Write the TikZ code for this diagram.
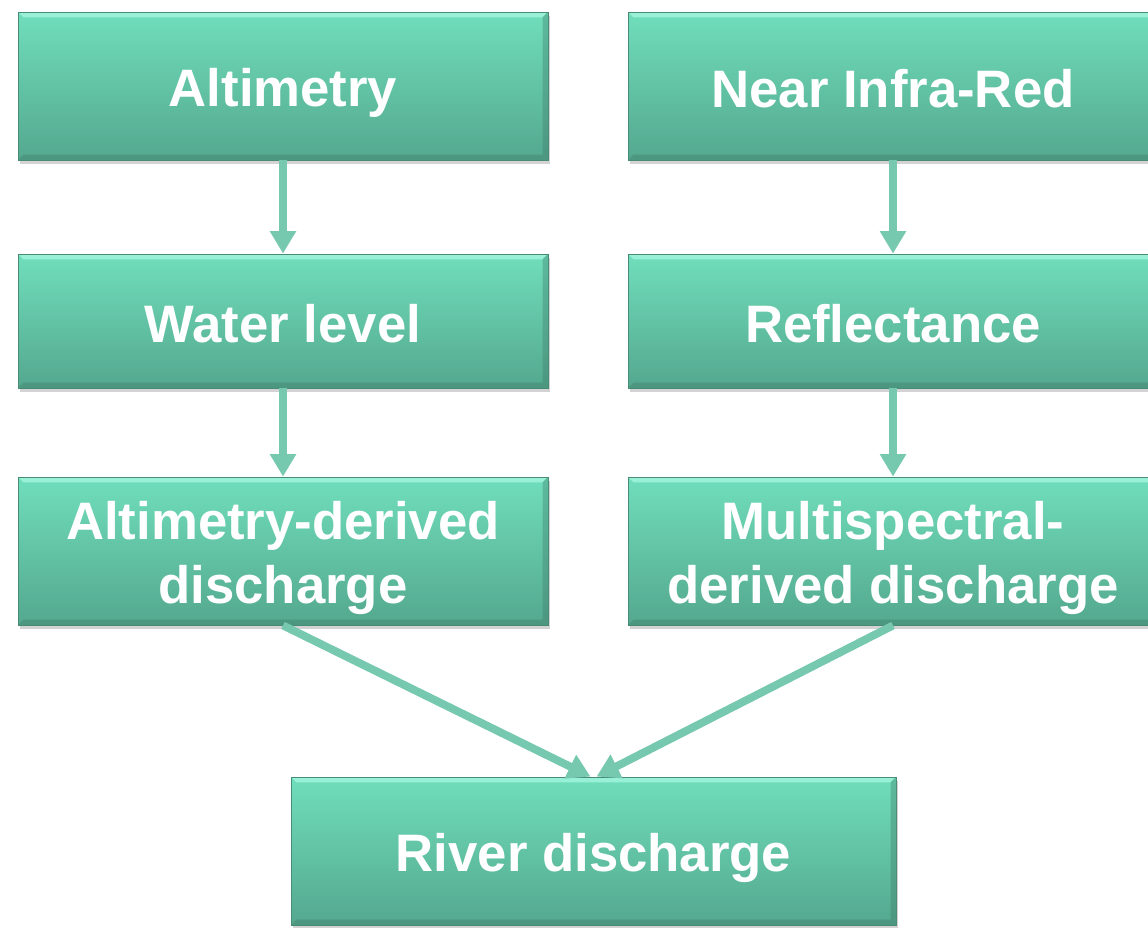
\documentclass[tikz,border=0pt]{standalone}
\usepackage{fontspec}
\setmainfont{Liberation Sans}
\usetikzlibrary{arrows.meta,shadows}

\definecolor{boxtop}{RGB}{112,222,187}
\definecolor{boxbot}{RGB}{84,168,142}
\definecolor{boxedge}{RGB}{72,140,118}
\definecolor{boxhigh}{RGB}{170,250,226}
\definecolor{boxlow}{RGB}{60,120,100}
\definecolor{flowcol}{RGB}{118,200,174}

\newcommand{\stagestrut}{\rule[-5.5pt]{0pt}{35pt}}

\tikzset{
  stage/.style={rectangle, minimum width=10.6cm, minimum height=2.96cm, inner sep=0pt,
    top color=boxtop, bottom color=boxbot, draw=boxedge, line width=0.5pt,
    text=white, align=center, font=\fontsize{30}{35}\selectfont\bfseries,
    execute at begin node=\stagestrut, execute at end node=\stagestrut,
    drop shadow={opacity=0.35, shadow xshift=0.4mm, shadow yshift=-0.8mm},
    path picture={
      \fill[boxhigh, opacity=0.7] (path picture bounding box.north west) -- (path picture bounding box.north east)
        -- ([shift={(-3pt,-3pt)}]path picture bounding box.north east) -- ([shift={(3pt,-3pt)}]path picture bounding box.north west) -- cycle;
      \fill[boxlow, opacity=0.35] (path picture bounding box.south west) -- (path picture bounding box.south east)
        -- (path picture bounding box.north east) -- ([shift={(-3pt,-3pt)}]path picture bounding box.north east)
        -- ([shift={(-3pt,3pt)}]path picture bounding box.south east) -- ([shift={(3pt,3pt)}]path picture bounding box.south west) -- cycle;
    }},
  flow/.style={draw=flowcol, line width=4.5pt, -{Triangle[width=0.5cm,length=0.45cm]}}
}

\begin{document}
\begin{tikzpicture}[x=0.02cm, y=-0.02cm]
    \useasboundingbox (0,0) rectangle (1148,927);

    % altimetry branch
    \node[stage] (alti) at (283,86) {Altimetry};
    \node[stage, minimum height=2.68cm] (wlevel) at (283,321) {Water level};
    \node[stage] (altq) at (283,551) {\stagestrut Altimetry-derived\\discharge\stagestrut};

    % multispectral branch
    \node[stage] (nir) at (893,86) {Near Infra-Red};
    \node[stage, minimum height=2.68cm] (refl) at (893,321) {Reflectance};
    \node[stage] (msq) at (893,551) {\stagestrut Multispectral-\\derived discharge\stagestrut};

    \node[stage, minimum width=12.1cm] (river) at (593.5,851) {River discharge};

    \draw[flow] (alti) -- (wlevel);
    \draw[flow] (wlevel) -- (altq);
    \draw[flow] (nir) -- (refl);
    \draw[flow] (refl) -- (msq);

    \draw[flow] (altq.south) -- ([xshift=-0.6mm]river.north);
    \draw[flow] (msq.south) -- ([xshift=0.6mm]river.north);
\end{tikzpicture}
\end{document}
